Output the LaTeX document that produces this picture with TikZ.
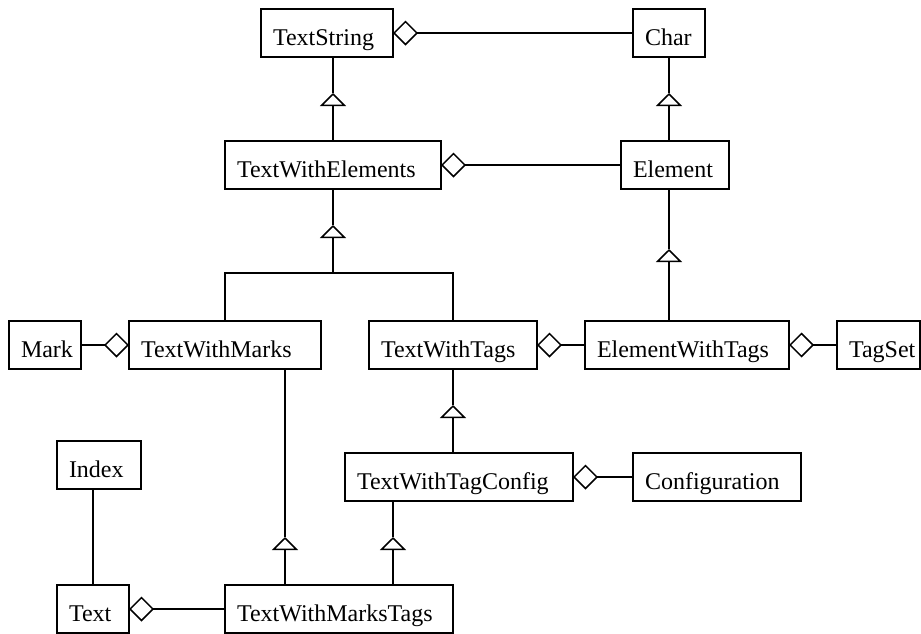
\documentclass[tikz,border=0pt]{standalone}
\usepackage{fontspec}
\setmainfont{Liberation Serif}
\usetikzlibrary{arrows.meta}

\tikzset{
  cls/.style={draw, line width=1.5pt, anchor=north west, minimum height=48pt,
    inner xsep=12pt, inner ysep=0pt, outer sep=0pt, text height=28pt, text depth=4pt,
    align=left, font=\fontsize{24pt}{28pt}\selectfont},
  tw/.style={text width=#1},
  link/.style={line width=1.5pt},
  agg/.style={link, {Diamond[open,length=25pt,width=25pt]}-},
  gen/.style={link, -{Triangle[open,length=13pt,width=26pt]}}
}

\begin{document}
\begin{tikzpicture}[x=1pt, y=-1pt]
  \useasboundingbox (0,0) rectangle (921,633);

  % classes
  \node[cls, tw=108pt] (TS)   at (261,9)   {TextString};
  \node[cls, tw=48pt]  (Char) at (633,9)   {Char};
  \node[cls, tw=192pt] (TWE)  at (225,141) {TextWithElements};
  \node[cls, tw=84pt]  (Elem) at (621,141) {Element};
  \node[cls, tw=48pt]  (Mark) at (9,321)   {Mark};
  \node[cls, tw=168pt] (TWM)  at (129,321) {TextWithMarks};
  \node[cls, tw=144pt] (TWT)  at (369,321) {TextWithTags};
  \node[cls, tw=180pt] (EWT)  at (585,321) {ElementWithTags};
  \node[cls, tw=59pt]  (Tags) at (837,321) {TagSet};
  \node[cls, tw=60pt]  (Idx)  at (57,441)  {Index};
  \node[cls, tw=204pt] (TWTC) at (345,453) {TextWithTagConfig};
  \node[cls, tw=144pt] (Conf) at (633,453) {Configuration};
  \node[cls, tw=48pt]  (Text) at (57,585)  {Text};
  \node[cls, tw=204pt] (TWMT) at (225,585) {TextWithMarksTags};

  % aggregations
  \draw[agg] (TS.east)   -- (Char.west);
  \draw[agg] (TWE.east)  -- (Elem.west);
  \draw[agg] (TWM.west)  -- (Mark.east);
  \draw[agg] (TWT.east)  -- (EWT.west);
  \draw[agg] (EWT.east)  -- (Tags.west);
  \draw[agg] (TWTC.east) -- (Conf.west);
  \draw[agg] (Text.east) -- (TWMT.west);

  % plain association
  \draw[link] (Text.north) -- (Text.north |- Idx.south);

  % generalisation tips (apex points)
  \coordinate (g1) at (333,93);
  \coordinate (g2) at (669,93);
  \coordinate (g3) at (669,249);
  \coordinate (g4) at (333,225);
  \coordinate (g5) at (453,405);
  \coordinate (g6) at (285,537);
  \coordinate (g7) at (393,537);
  \coordinate (j)  at (333,273);

  \draw[gen]  (g1 |- TWE.north) -- (g1);
  \draw[link] (g1) -- (g1 |- TS.south);

  \draw[gen]  (g2 |- Elem.north) -- (g2);
  \draw[link] (g2) -- (g2 |- Char.south);

  \draw[gen]  (g3 |- EWT.north) -- (g3);
  \draw[link] (g3) -- (g3 |- Elem.south);

  \draw[gen]  (j) -- (g4);
  \draw[link] (g4) -- (g4 |- TWE.south);
  \draw[link] (TWM.north) |- (TWT.north |- j) -- (TWT.north);

  \draw[gen]  (g5 |- TWTC.north) -- (g5);
  \draw[link] (g5) -- (g5 |- TWT.south);

  \draw[gen]  (g6 |- TWMT.north) -- (g6);
  \draw[link] (g6) -- (g6 |- TWM.south);

  \draw[gen]  (g7 |- TWMT.north) -- (g7);
  \draw[link] (g7) -- (g7 |- TWTC.south);
\end{tikzpicture}
\end{document}
